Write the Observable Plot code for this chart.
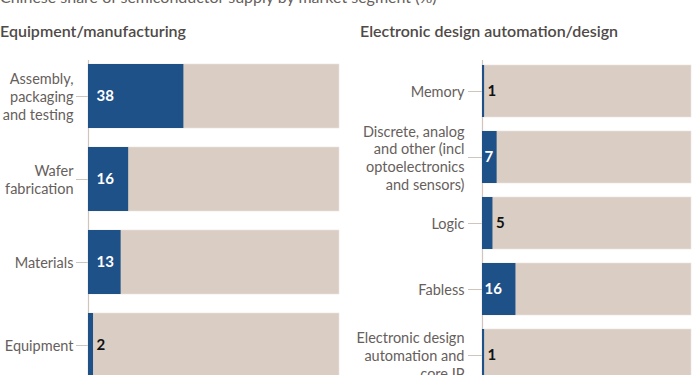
<!DOCTYPE html>
<html>
<head>
<meta charset="utf-8">
<script src="https://cdn.jsdelivr.net/npm/d3@7"></script>
<script src="https://cdn.jsdelivr.net/npm/@observablehq/plot@0.6"></script>
<style>
  html, body { margin: 0; padding: 0; background: #fff; width: 700px; height: 375px; overflow: hidden; }
  body { position: relative; font-family: Lato, "Noto Sans", sans-serif; }
  .sub { position: absolute; left: 0; top: -12px; font-size: 16px; line-height: 18px; color: #66605c; white-space: nowrap; }
  .ttl { position: absolute; top: 22px; font-size: 16px; line-height: 18px; color: #4f4a47; font-weight: 600; white-space: nowrap; }
  .panel { position: absolute; top: 0; }
</style>
</head>
<body>
<div class="sub">Chinese share of semiconductor supply by market segment (%)</div>
<div class="ttl" style="left:0px">Equipment/manufacturing</div>
<div class="ttl" style="left:360px">Electronic design automation/design</div>
<div class="panel" id="left" style="left:0px"></div>
<div class="panel" id="right" style="left:350px"></div>
<script>
// ---- data ----
const leftCategories = ["Assembly,\npackaging\nand testing", "Wafer\nfabrication", "Materials", "Equipment"];
const leftValues = [38, 16, 13, 2];
const rightCategories = ["Memory", "Discrete, analog\nand other (incl\noptoelectronics\nand sensors)", "Logic", "Fabless", "Electronic design\nautomation and\ncore IP"];
const rightValues = [1, 7, 5, 16, 1];
const total = 100;

const BLUE = "#1f5189";
const BEIGE = "#d9cdc4";
const AXIS = "#cfc5bc";
const LABEL = "#66605c";

function panel({cats, vals, marginLeft, marginRight, marginBottom, paddingInner, paddingOuter, tickSize, tickPadding, insideDx, insideMin}) {
  const rows = cats.map((c, i) => ({cat: c, v: vals[i], total}));
  return Plot.plot({
    width: 350,
    height: 400,
    marginTop: 60,
    marginBottom,
    marginLeft,
    marginRight,
    style: {fontFamily: "Lato, 'Noto Sans', sans-serif", background: "transparent", overflow: "visible"},
    x: {domain: [0, total], axis: null},
    y: {domain: cats, paddingInner, paddingOuter, label: null},
    marks: [
      Plot.axisY({tickSize, tickPadding, stroke: AXIS, fill: LABEL, fontSize: 14.5, lineHeight: 1.22, label: null}),
      Plot.barX(rows, {x: "total", y: "cat", fill: BEIGE, stroke: "#ece5df", strokeWidth: 0.6}),
      Plot.ruleX([0], {stroke: AXIS, strokeWidth: 1.2}),
      Plot.barX(rows, {x: "v", y: "cat", fill: BLUE}),
      Plot.text(rows.filter(d => d.v >= insideMin), {x: 0, y: "cat", text: d => String(d.v), textAnchor: "start", dx: insideDx, fill: "#fff", fontWeight: "bold", fontSize: 15}),
      Plot.text(rows.filter(d => d.v < insideMin), {x: "v", y: "cat", text: d => String(d.v), textAnchor: "start", dx: 3, fill: "#111", fontWeight: "bold", fontSize: 15})
    ]
  });
}

document.getElementById("left").append(panel({
  cats: leftCategories, vals: leftValues,
  marginLeft: 88, marginRight: 11, marginBottom: 19,
  paddingInner: 0.228, paddingOuter: 0.036,
  tickSize: 12, tickPadding: 3, insideDx: 8, insideMin: 5
}));
document.getElementById("right").append(panel({
  cats: rightCategories, vals: rightValues,
  marginLeft: 132, marginRight: 9, marginBottom: 13,
  paddingInner: 0.21, paddingOuter: 0.065,
  tickSize: 14, tickPadding: 4, insideDx: 2, insideMin: 6
}));
</script>
</body>
</html>
